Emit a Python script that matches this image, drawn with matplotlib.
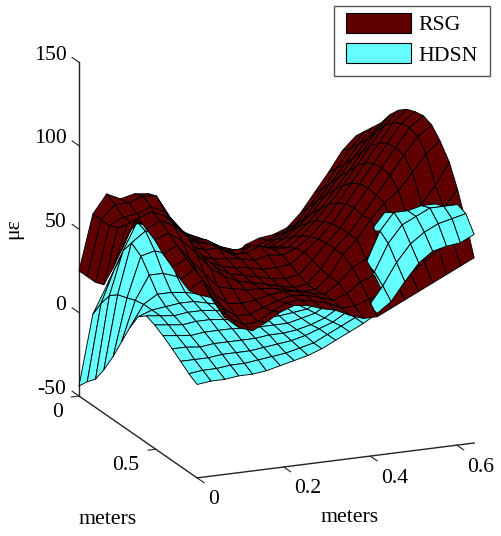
import numpy as np
import matplotlib
matplotlib.use("Agg")
import matplotlib.pyplot as plt
from matplotlib.patches import Patch, Rectangle
from mpl_toolkits.mplot3d import proj3d
from mpl_toolkits.mplot3d.art3d import Poly3DCollection

plt.rcParams['font.family'] = ['Liberation Serif', 'DejaVu Serif']
plt.rcParams['axes.unicode_minus'] = False

x_m = [0, .032, .064, .096, .128, .16, .192, .224, .256, .288, .32, .352, .384, .416, .448, .48, .512, .544, .576, .608, .64]
y_m = [0, .054, .108, .162, .223, .277, .331, .385, .439, .493, .547, .608, .662, .716, .77]

# each row: one x position, values along y (microstrain)
rsg_z = [
 [25,25,25,27,41,55,70,81,78,75,70,66,62,59,60],
 [58,58,58,60,66,72,78,84,82,78,74,70,67,64,57],
 [69,66,62,62,66,70,76,80,78,72,64,58,52,48,44],
 [65,66,63,60,60,62,66,70,70,64,55,47,42,39,37],
 [67,69,66,60,56,55,56,58,58,54,46,40,36,34,34],
 [66,68,62,58,54,52,50,50,50,48,44,39,36,35,38],
 [54,54,51,50,50,49,47,46,45,44,42,40,39,40,43],
 [44,44,44,45,48,49,46,44,43,42,42,42,42,44,46],
 [38,40,42,43,43,44,45,43,41,40,41,43,44,45,45],
 [33,35,37,38,39,44,43,41,39,38,39,42,43,43,42],
 [27,30,34,38,44,47,45,41,38,36,37,40,41,41,40],
 [21,26,31,36,41,44,44,42,39,37,37,38,38,37,36],
 [28,30,33,37,41,44,47,48,47,45,44,44,41,37,33],
 [31,33,37,41,46,50,53,55,56,56,56,52,47,40,33],
 [32,36,41,47,53,58,61,63,64,64,64,56,50,43,37],
 [35,40,47,54,61,67,71,74,75,74,75,64,54,47,41],
 [43,50,57,64,71,77,82,85,86,85,84,72,60,52,45],
 [54,60,67,74,81,88,93,96,97,96,90,78,67,58,49],
 [65,71,77,84,92,99,104,107,108,107,100,85,75,65,53],
 [77,82,88,94,103,110,115,118,119,117,110,95,85,72,57],
 [85,91,97,103,112,118,122,124,125,123,117,108,95,79,61],
]
hdsn_z = [
 [-44,-38,-33,-24,-12,0,12,22,26,24,21,17,13,9,6],
 [-2,8,16,20,22,24,25,25,25,23,20,17,13,10,7],
 [14,28,42,50,46,38,30,26,24,22,19,16,13,10,7],
 [24,42,58,56,48,38,30,27,25,23,20,17,14,11,8],
 [32,48,60,54,45,35,29,27,25,23,20,17,14,11,8],
 [30,40,45,42,36,31,27,25,24,22,20,17,14,12,9],
 [22,26,28,28,27,25,24,23,22,21,19,17,15,13,11],
 [15,18,20,22,23,23,23,22,21,20,19,18,16,14,13],
 [10,13,15,18,20,21,22,22,21,20,19,18,17,16,15],
 [8,10,13,15,17,19,21,21,21,20,19,19,19,18,18],
 [7,9,11,13,15,17,19,20,21,21,21,21,22,22,22],
 [7,8,10,12,14,16,18,20,21,22,23,24,25,26,26],
 [8,9,10,12,14,16,18,21,24,26,28,29,30,30,30],
 [10,12,14,16,18,20,22,25,28,31,33,36,37,36,35],
 [13,15,17,19,21,24,27,30,34,40,48,54,52,47,41],
 [18,20,22,24,27,30,34,38,44,55,68,72,68,60,52],
 [24,26,28,30,33,36,40,45,53,65,78,82,78,70,62],
 [30,32,34,36,39,42,46,52,60,71,80,82,82,76,68],
 [36,38,40,42,45,48,52,58,66,75,81,84,86,80,70],
 [42,44,46,48,50,53,57,63,70,77,82,84,86,82,71],
 [48,50,52,54,56,58,62,67,72,78,83,85,86,84,75],
]
series_names = ['RSG', 'HDSN']
series_colors = ['#600000', '#66FFFF']
x_ticks = [0, 0.2, 0.4, 0.6]
x_tick_labels = ['0', '0.2', '0.4', '0.6']
y_ticks = [0, 0.5]
y_tick_labels = ['0', '0.5']
z_ticks = [-50, 0, 50, 100, 150]
z_tick_labels = ['-50', '0', '50', '100', '150']

W, H = 502, 536
fig = plt.figure(figsize=(W/100, H/100), dpi=100, facecolor='white')
ax = fig.add_axes([-0.2, -0.2, 1.4, 1.4], projection='3d', proj_type='ortho')
ax.view_init(elev=17.2, azim=-113.1)
ax.set_xlim(x_m[0], x_m[-1], view_margin=0)
ax.set_ylim(y_m[-1], y_m[0], view_margin=0)
ax.set_zlim(-50, 150, view_margin=0)
ax.set_autoscale_on(False)

polys, faces = [], []
for grid, col in zip((rsg_z, hdsn_z), series_colors):
    for i in range(len(x_m)-1):
        for j in range(len(y_m)-1):
            polys.append([(x_m[i], y_m[j], grid[i][j]), (x_m[i+1], y_m[j], grid[i+1][j]),
                          (x_m[i+1], y_m[j+1], grid[i+1][j+1]), (x_m[i], y_m[j+1], grid[i][j+1])])
            faces.append(col)
ax.add_collection3d(Poly3DCollection(polys, facecolors=faces, edgecolors='black', linewidths=0.65))

ax.set_xticks(x_ticks)
ax.set_yticks(y_ticks)
ax.set_zticks(z_ticks)
ax.tick_params(labelbottom=False, labelleft=False)
for a in (ax.xaxis, ax.yaxis, ax.zaxis):
    a.set_major_formatter(matplotlib.ticker.NullFormatter())
ax.grid(False)
for a in (ax.xaxis, ax.yaxis, ax.zaxis):
    a.pane.set_visible(False)
    a.line.set_color('#222222'); a.line.set_linewidth(1)
    a.set_tick_params(color='none')

# tick marks
tick_x = x_m[-1]*0.055
tick_y = y_m[-1]*0.058
tk = dict(color='#222222', lw=0.8)
for v in x_ticks:
    ax.plot([v, v], [y_m[-1], y_m[-1]+tick_y], [-50, -50], **tk)
for v in y_ticks:
    ax.plot([0, -tick_x*0.5], [v, v], [-50, -50], **tk)
for v in z_ticks:
    ax.plot([0, 0], [0, -tick_y], [v, v], **tk)

# fit the projected box onto the reference axes span
def px(x, y, z):
    a, b, _ = proj3d.proj_transform(x, y, z, ax.get_proj())
    return ax.transData.transform((a, b))
ax.set_box_aspect((1, 1, 1.16), zoom=1.0)
fig.canvas.draw()
span = px(x_m[-1], y_m[-1], -50)[0] - px(x_m[0], y_m[-1], -50)[0]
zoom = 277.0 / span
ax.set_box_aspect((1, 1, 1.16), zoom=zoom)
fig.canvas.draw()
o = px(0, 0, -50)
pos = ax.get_position()
ax.set_position([pos.x0 + (79 - o[0])/W, pos.y0 + ((H-396) - o[1])/H, pos.width, pos.height])
fig.canvas.draw()

# tick labels, offset in pixels from the projected tick base
lab = dict(fontsize=15.7, va='center', transform=fig.transFigure)
def label(base, dx, dy, s, ha):
    fig.text((base[0]+dx)/W, (base[1]+dy)/H, s, ha=ha, **lab)
for v, s in zip(x_ticks, x_tick_labels):
    label(px(v, y_m[-1], -50), 10.5, -22, s, 'left')
for v, s in zip(y_ticks, y_tick_labels):
    label(px(0, v, -50), -16, -16.5, s, 'right')
for v, s in zip(z_ticks, z_tick_labels):
    label(px(0, 0, v), -12.5, 7, s, 'right')

fig.add_artist(Rectangle((334/W, 1-76/H), 156/W, 70/H, transform=fig.transFigure, facecolor='white',
                         edgecolor='#555555', linewidth=1.0))
handles = [Patch(facecolor=c, edgecolor='black', linewidth=0.8) for c in series_colors]
fig.legend(handles, series_names, loc='upper left', bbox_to_anchor=(346/W, 1-13/H), borderaxespad=0,
           fontsize=15.7, frameon=False, handlelength=3.0,
           handleheight=1.04, handletextpad=0.3, borderpad=0, labelspacing=0.36)

fig.text(108/W, 1-519/H, 'meters', fontsize=15.7, ha='center', va='center')
fig.text(350/W, 1-518/H, 'meters', fontsize=15.7, ha='center', va='center')
fig.text(14/W, 1-229/H, 'με', fontsize=15.7, ha='center', va='center', rotation=90)

fig.savefig('out.png', dpi=100)
